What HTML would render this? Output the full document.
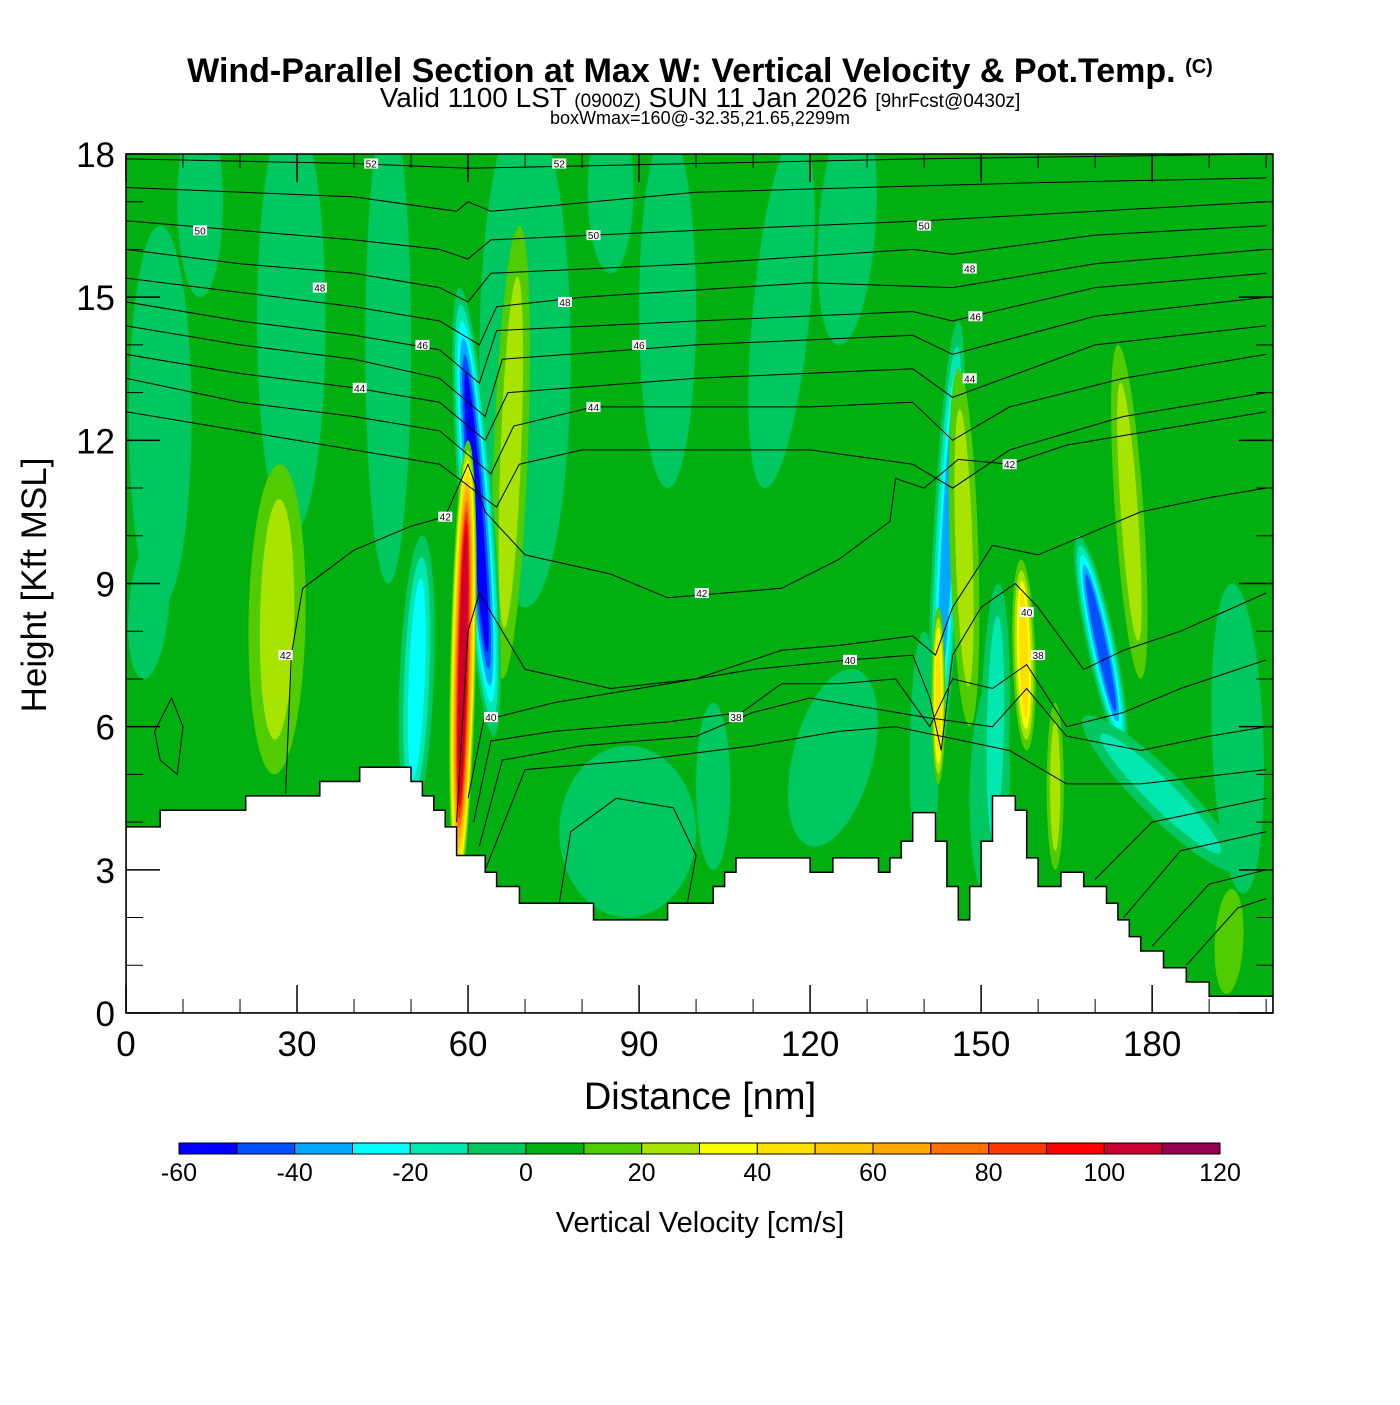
<!DOCTYPE html>
<html><head><meta charset="utf-8"><style>
body{margin:0;background:#fff;}
svg text{font-family:"Liberation Sans",sans-serif;}
</style></head><body>
<svg id="chart" width="1400" height="1400" viewBox="0 0 1400 1400" xmlns="http://www.w3.org/2000/svg">
<rect width="1400" height="1400" fill="#fff"/>
<text x="700" y="82" text-anchor="middle" font-size="34" font-weight="bold">Wind-Parallel Section at Max W: Vertical Velocity &amp; Pot.Temp. <tspan font-size="20" dy="-9">(C)</tspan></text>
<text x="700" y="107" text-anchor="middle" font-size="28">Valid 1100 LST <tspan font-size="19">(0900Z)</tspan> SUN 11 Jan 2026 <tspan font-size="19">[9hrFcst@0430z]</tspan></text>
<text x="700" y="124" text-anchor="middle" font-size="18">boxWmax=160@-32.35,21.65,2299m</text>
<defs><clipPath id="pc"><rect x="126" y="154" width="1147" height="859"/></clipPath></defs>
<g id="plot" clip-path="url(#pc)"></g>
<g id="axes"></g>
<g id="cbar"></g>
<text x="700" y="1109" text-anchor="middle" font-size="38">Distance [nm]</text>
<text transform="translate(46,585) rotate(-90)" text-anchor="middle" font-size="35">Height [Kft MSL]</text>
<text x="700" y="1232" text-anchor="middle" font-size="29">Vertical Velocity [cm/s]</text>
</svg>
<script>
const X0=126,X1=1273,XMAX=201.2,Y0=1013,Y1=154,YMAX=18;
function sx(d){return X0+(X1-X0)*d/XMAX;}
function sy(h){return Y0-(Y0-Y1)*h/YMAX;}
const NS='http://www.w3.org/2000/svg';
function mk(t,a,p){const e=document.createElementNS(NS,t);for(const k in a)e.setAttribute(k,a[k]);p.appendChild(e);return e;}
const bandLevels=[-60,-50,-40,-30,-20,-10,0,10,20,30,40,50,60,70,80,90,100,110,120];
const bandColors=['#0000ff','#0050ff','#00a8ff','#00ffff','#00e8b0','#00c860','#00b010','#50cc00','#a8e400','#f8ff00','#ffe000','#ffc400','#ffa800','#ff7000','#ff3800','#ff0000','#cc0030','#960050'];
// vertical velocity features: [x0,h0]-[x1,h1], peak value, width (nm)
const featX0=[6,13,29,46,70,85,95,112,125,120,88,140,151,196,103,3,26,50,66,64.5,58.2,142,148,142.5,152,158,163,175,178,168,193];
const featH0=[8.5,15,10,9,8.5,15.5,11,11,14,3.5,2,2.5,2.5,2.5,3,7,5,4,7,5.8,2.6,5,6,4.8,3,5.5,3,5.5,7,6.2,0.4];
const featX1=[6,13,29,46,70,85,95,118,128,128,88,140,152,194,103,5,27,52,69,58.5,60,146,146,142.5,153,157,163,167,174,195,194];
const featH1=[16.5,19,19,19,19,19,18.5,18.5,19,7.2,5.6,8,7,9,6.5,10,11.5,10,16.5,15.2,12,14.5,13.5,8.5,9,9.5,6.5,10,14,3,2.6];
const featPeak=[-9,-9,-9,-9,-9,-9,-9,-9,-9,-9,-9,-9,-9,-9,-9,-9,22,-28,27,-58,104,-32,25,48,-18,42,27,-48,28,-15,15];
const featWidth=[11,8,12,8,16,8,10,10,10,14,24,5,7,9,6,7,10,6,6,6,4.5,5,5,2.5,5,4,3,5,5,8,5];
// terrain steps: start distance, height
const terrX=[0,6,21,34,41,50,52,54,56,58,63,65,69,82,95,103,105,107,120,124,132,134,136,138,142,144,146,148,150,152,156,158,160,164,168,172,174,176,178,182,186,190];
const terrH=[3.9,4.25,4.55,4.85,5.15,4.85,4.55,4.25,3.9,3.3,2.95,2.65,2.3,1.95,2.3,2.65,2.95,3.25,2.95,3.25,2.95,3.25,3.6,4.2,3.6,2.65,1.95,2.65,3.6,4.55,4.25,3.25,2.65,2.95,2.65,2.3,1.95,1.6,1.3,0.95,0.65,0.35];
const thetaLines=[
[[0,17.9],[40,17.8],[60,17.7],[100,17.8],[140,17.9],[200,18]],
[[0,17.3],[40,17.1],[58,16.8],[60,17.0],[64,16.8],[100,17.2],[160,17.4],[200,17.5]],
[[0,16.6],[20,16.4],[40,16.2],[55,16.0],[60,15.8],[64,16.2],[100,16.4],[140,16.6],[170,16.8],[200,17.0]],
[[0,16.0],[20,15.7],[40,15.5],[55,15.2],[60,14.9],[64,15.5],[100,15.7],[138,16.0],[145,15.9],[170,16.3],[200,16.5]],
[[0,15.4],[20,15.1],[40,14.8],[55,14.5],[62,14.0],[65,14.8],[80,15.0],[120,15.3],[145,15.2],[170,15.7],[200,16.0]],
[[0,14.9],[20,14.5],[40,14.2],[55,13.9],[62,13.2],[65,14.3],[100,14.5],[138,14.7],[145,14.5],[170,15.2],[200,15.5]],
[[0,14.4],[20,14.0],[40,13.7],[55,13.3],[63,12.5],[66,13.7],[100,14.0],[138,14.2],[145,13.8],[170,14.6],[200,15.0]],
[[0,13.8],[20,13.4],[40,13.1],[55,12.8],[63,12.0],[67,13.0],[100,13.3],[138,13.5],[145,12.9],[170,14.0],[200,14.4]],
[[0,13.3],[20,12.8],[40,12.5],[55,12.2],[64,11.3],[68,12.3],[82,12.7],[120,12.7],[138,12.8],[145,12.0],[155,12.7],[175,13.3],[200,13.8]],
[[0,12.6],[20,12.2],[40,11.8],[55,11.5],[65,10.6],[69,11.5],[80,11.8],[120,11.8],[138,11.5],[145,11.0],[155,11.8],[175,12.5],[200,13.0]],
[[28,4.6],[29,7.5],[31,8.9],[40,9.7],[50,10.2],[56,10.4],[60,11.5],[63,10.5],[70,9.6],[85,9.2],[95,8.7],[105,8.8],[115,8.9],[125,9.5],[134,10.3],[135,11.2],[140,11.0],[146,11.6],[155,11.5],[165,11.9],[180,12.2],[200,12.6]],
[[58,4.0],[60,8.0],[62,8.8],[70,7.2],[85,6.8],[100,7.0],[115,7.6],[125,7.7],[138,7.9],[142,7.5],[145,8.5],[152,9.8],[160,9.6],[168,10.0],[178,10.5],[190,10.8],[200,11.0]],
[[60,4.5],[63,6.3],[65,6.2],[75,6.5],[90,6.8],[110,7.2],[127,7.4],[138,7.5],[141,6.6],[143,5.5],[145,7.5],[150,8.5],[156,9.0],[160,8.5],[168,7.2],[175,7.6],[185,8.0],[200,8.8]],
[[61,4.0],[64,5.7],[75,5.9],[95,6.1],[108,6.3],[115,6.9],[125,6.9],[135,7.0],[141,6.0],[145,7.0],[152,6.8],[158,7.3],[165,6.0],[175,6.3],[185,6.8],[200,7.4]],
[[62,3.5],[66,5.3],[80,5.6],[100,5.8],[110,6.3],[120,6.6],[140,6.2],[152,6.0],[158,6.8],[165,5.8],[178,5.5],[190,5.8],[200,6.0]],
[[63,3.0],[70,5.1],[90,5.3],[110,5.6],[125,5.9],[135,6.0],[155,5.5],[165,4.8],[178,4.8],[200,5.1]],
[[170,2.8],[180,4.0],[200,4.5]],
[[175,2.0],[185,3.4],[200,3.8]],
[[180,1.4],[190,2.7],[200,3.0]],
[[186,1.0],[195,2.2],[200,2.4]],
[[76,2.3],[78,3.8],[86,4.5],[96,4.3],[100,3.3],[98,2.0]],
[[5,5.9],[8,6.6],[10,6.0],[9,5.0],[6,5.3],[5,5.9]]
];
const labelX=[43,76,13,82,140,34,77,148,52,90,149,41,82,148,56,101,155,28,64,127,158,107,160];
const labelH=[17.8,17.8,16.4,16.3,16.5,15.2,14.9,15.6,14.0,14.0,14.6,13.1,12.7,13.3,10.4,8.8,11.5,7.5,6.2,7.4,8.4,6.2,7.5];
const labelTxt=['52','52','50','50','50','48','48','48','46','46','46','44','44','44','42','42','42','42','40','40','40','38','38'];
function colorFor(v){for(let i=0;i<bandColors.length;i++){if(v<bandLevels[i+1])return bandColors[i];}return bandColors[bandColors.length-1];}
const plot=document.getElementById('plot');
const bg=mk('rect',{x:X0,y:Y1,width:X1-X0,height:Y0-Y1,fill:'#00b010'},plot);


for(let f=0;f<featX0.length;f++){
  const P=featPeak[f];
  const cx=(sx(featX0[f])+sx(featX1[f]))/2, cy=(sy(featH0[f])+sy(featH1[f]))/2;
  const dx=sx(featX1[f])-sx(featX0[f]), dy=sy(featH1[f])-sy(featH0[f]);
  const len=Math.hypot(dx,dy)/2, ang=Math.atan2(dy,dx)*180/Math.PI;
  const w=(sx(featWidth[f])-sx(0))/2;
  const th=[];
  if(P>0){for(let L=10;L<P;L+=10)th.push(L);}else{for(let L=0;L>P;L-=10)th.push(L);}
  const n=th.length;
  th.forEach((L,i)=>{
    const fr=n>1?i/n:0;
    const band=P>0?L+5:L-5;
    const e=mk('ellipse',{cx:cx,cy:cy,rx:len*(1-0.45*fr),ry:w*(1-0.8*fr),fill:colorFor(band),transform:`rotate(${ang} ${cx} ${cy})`},plot);
    
    
  });
}
thetaLines.forEach(line=>{
  const d=line.map((p,i)=>(i?'L':'M')+sx(p[0]).toFixed(1)+','+sy(p[1]).toFixed(1)).join(' ');
  const p=mk('path',{d:d,fill:'none',stroke:'#000','stroke-width':1},plot);
  
  
});
let td='M'+sx(0)+','+Y0;
for(let i=0;i<terrX.length;i++){
  const xe=i+1<terrX.length?terrX[i+1]:XMAX;
  td+=' L'+sx(terrX[i]).toFixed(1)+','+sy(terrH[i]).toFixed(1)+' L'+sx(xe).toFixed(1)+','+sy(terrH[i]).toFixed(1);
}
td+=' L'+sx(XMAX)+','+Y0+' Z';
const ter=mk('path',{d:td,fill:'#fff',stroke:'#000','stroke-width':1.5},plot);


for(let i=0;i<labelX.length;i++){
  const x=sx(labelX[i]),y=sy(labelH[i]);
  const r=mk('rect',{x:x-7,y:y-5,width:14,height:10,fill:'#fff'},plot);
  
  
  const t=mk('text',{x:x,y:y+4,'text-anchor':'middle','font-size':10},plot);
  
  
  t.textContent=labelTxt[i];
}
const ax=document.getElementById('axes');
const frame=mk('rect',{x:X0,y:Y1,width:X1-X0,height:Y0-Y1,fill:'none',stroke:'#000','stroke-width':1.5},ax);


const xTicks=[0,30,60,90,120,150,180];
const yTicks=[0,3,6,9,12,15,18];
for(let d=0;d<=200;d+=10){
  const major=d%30===0;
  [[Y0,Y0-(major?28:14)],[Y1,Y1+(major?28:14)]].forEach(s=>{
    const tl=mk('line',{x1:sx(d),x2:sx(d),y1:s[0],y2:s[1],stroke:'#000','stroke-width':major?1.5:1},ax);
    
    
  });
}
xTicks.forEach(d=>{
  const t=mk('text',{x:sx(d),y:1056,'text-anchor':'middle','font-size':35},ax);
  
  
  t.textContent=d;
});
for(let h=0;h<=18;h+=1){
  const major=h%3===0;
  [[X0,X0+(major?34:17)],[X1,X1-(major?34:17)]].forEach(s=>{
    const tl=mk('line',{x1:s[0],x2:s[1],y1:sy(h),y2:sy(h),stroke:'#000','stroke-width':major?1.5:1},ax);
    
    
  });
}
yTicks.forEach(h=>{
  const t=mk('text',{x:115,y:sy(h)+13,'text-anchor':'end','font-size':35},ax);
  
  
  t.textContent=h;
});
const cb=document.getElementById('cbar');
const CB0=179,CB1=1220,segW=(CB1-CB0)/bandColors.length;
bandColors.forEach((c,i)=>{
  const r=mk('rect',{x:CB0+i*segW,y:1143,width:segW,height:11,fill:c,stroke:'#000','stroke-width':1},cb);
  
  
});
bandLevels.forEach((v,i)=>{
  if(v%20!==0)return;
  const t=mk('text',{x:CB0+i*segW,y:1181,'text-anchor':'middle','font-size':25},cb);
  
  
  t.textContent=v;
});
</script>
</body></html>
